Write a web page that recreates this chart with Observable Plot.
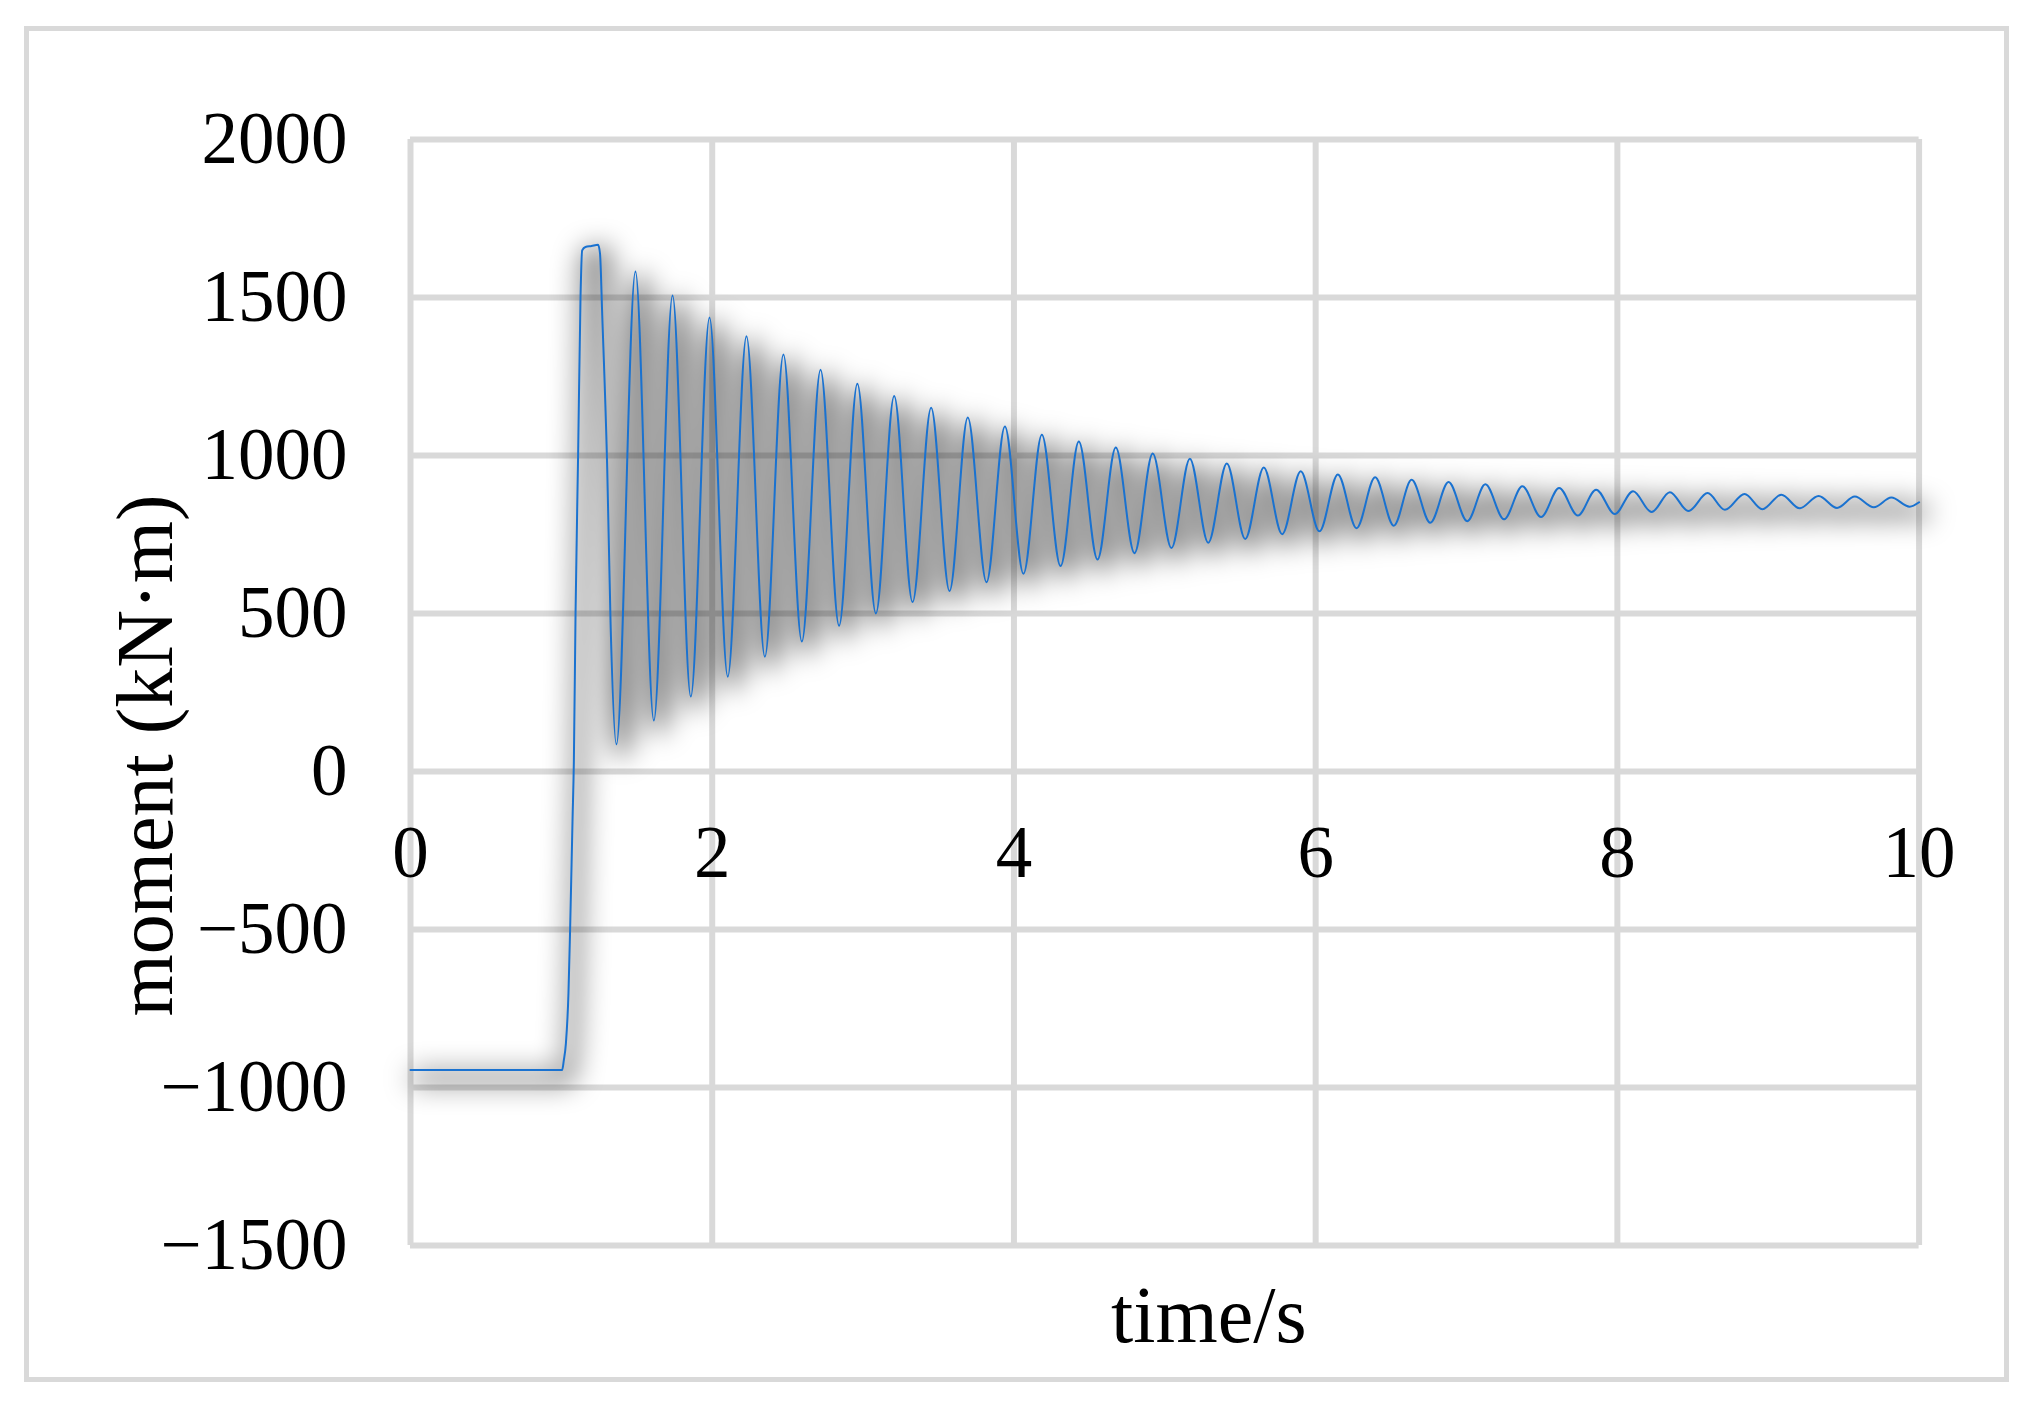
<!DOCTYPE html>
<html><head><meta charset="utf-8">
<script src="https://cdn.jsdelivr.net/npm/d3@7"></script>
<script src="https://cdn.jsdelivr.net/npm/@observablehq/plot@0.6"></script>
<style>
html,body{margin:0;padding:0;background:#fff;}
#wrap{position:relative;width:2034px;height:1417px;overflow:hidden;background:#fff;}
#border{position:absolute;left:24px;top:26px;width:1985px;height:1356px;box-sizing:border-box;border:5px solid #d9d9d9;pointer-events:none;}
svg{display:block;}
</style></head><body><div id="wrap"><div id="border"></div></div>
<script>
// axis ticks and titles
const xTicks = [0, 2, 4, 6, 8, 10];
const yTicks = [-1500, -1000, -500, 0, 500, 1000, 1500, 2000];
const xLabel = "time/s";
const yLabel = "moment (kN·m)";

// initial static level, sudden rise and first flat-topped peak
const stepTime   = [0, 1.005, 1.016, 1.030, 1.047, 1.058, 1.074, 1.083, 1.094, 1.111, 1.127, 1.138, 1.160, 1.200, 1.243, 1.256, 1.271, 1.304, 1.326];
const stepMoment = [-945, -945, -915, -861, -703, -500, -155, 35, 500, 1000, 1500, 1649, 1660, 1663, 1667, 1640, 1443, 959, 475];

// local maxima of the decaying oscillation
const peakTime = [1.491, 1.737, 1.982, 2.227, 2.472, 2.718, 2.962, 3.206, 3.451, 3.694, 3.940, 4.185, 4.430, 4.675, 4.920, 5.166, 5.411, 5.656, 5.901, 6.147, 6.394, 6.636, 6.881, 7.125, 7.370, 7.614, 7.859, 8.104, 8.348, 8.598, 8.843, 9.087, 9.334, 9.574, 9.816];
const peakMoment = [1582, 1506, 1437, 1377, 1320, 1271, 1227, 1188, 1151, 1120, 1092, 1066, 1044, 1025, 1006, 990, 975, 962, 950, 940, 931, 923, 916, 909, 903, 897, 892, 887, 884, 881, 878, 876, 872, 870, 867];

// local minima of the decaying oscillation
const troughTime = [1.365, 1.613, 1.858, 2.103, 2.349, 2.594, 2.841, 3.085, 3.328, 3.573, 3.818, 4.063, 4.309, 4.554, 4.799, 5.044, 5.288, 5.533, 5.778, 6.025, 6.271, 6.518, 6.760, 7.005, 7.249, 7.494, 7.738, 7.983, 8.227, 8.471, 8.713, 8.961, 9.208, 9.456, 9.700, 9.937];
const troughMoment = [86, 161, 237, 300, 363, 411, 461, 500, 536, 571, 599, 626, 650, 671, 691, 707, 724, 736, 751, 760, 770, 778, 787, 792, 798, 805, 810, 815, 821, 824, 828, 830, 833, 834, 836, 838];

// last sample
const endTime = [10.0];
const endMoment = [852];

const series = [];
const add = (ts, ms) => ts.forEach((t, i) => series.push({time: t, moment: ms[i]}));
add(stepTime, stepMoment);
add(peakTime, peakMoment);
add(troughTime, troughMoment);
add(endTime, endMoment);
series.sort((a, b) => a.time - b.time);

const serif = "'Liberation Serif', 'Times New Roman', serif";
const fmt = d => d < 0 ? "\u2212" + Math.abs(d) : String(d);

const chart = Plot.plot({
  width: 2034,
  height: 1417,
  marginLeft: 410,
  marginRight: 115.4,
  marginTop: 139,
  marginBottom: 172,
  style: {background: "transparent", fontFamily: serif, color: "#000", overflow: "visible"},
  x: {domain: [0, 10], axis: null},
  y: {domain: [-1500, 2000]},
  marks: [
    Plot.gridX(xTicks, {stroke: "#d9d9d9", strokeOpacity: 1, strokeWidth: 6}),
    Plot.gridY(yTicks, {stroke: "#d9d9d9", strokeOpacity: 1, strokeWidth: 6}),
    Plot.axisY(yTicks, {tickSize: 0, tickPadding: 63, fontSize: 73, fontFamily: serif, tickFormat: fmt, label: null, fill: "#000"}),
    Plot.text(xTicks, {x: d => d, y: () => 0, text: d => fmt(d), fontSize: 73, fontFamily: serif, lineAnchor: "top", dy: 54, fill: "#000"}),
    Plot.line(series, {x: "time", y: "moment", curve: "monotone-x", stroke: "#000", strokeWidth: 8, strokeOpacity: 0.85, dx: 5, dy: 8}),
    Plot.line(series, {x: "time", y: "moment", curve: "monotone-x", stroke: "#1a72d0", strokeWidth: 2}),
    Plot.text([xLabel], {frameAnchor: "bottom", text: d => d, fontSize: 80, fontFamily: serif, textAnchor: "middle", lineAnchor: "middle", dx: 44, dy: 71, fill: "#000"}),
    Plot.text([yLabel], {frameAnchor: "left", text: d => d, rotate: -90, fontSize: 80, fontFamily: serif, textAnchor: "middle", lineAnchor: "middle", dx: -264, dy: 63, fill: "#000"})
  ]
});

const lines = d3.select(chart).selectAll('g[aria-label="line"]');
lines.filter((d, i) => i === 0).style("filter", "blur(14px)");
document.getElementById("wrap").prepend(chart);
</script>
</body></html>
